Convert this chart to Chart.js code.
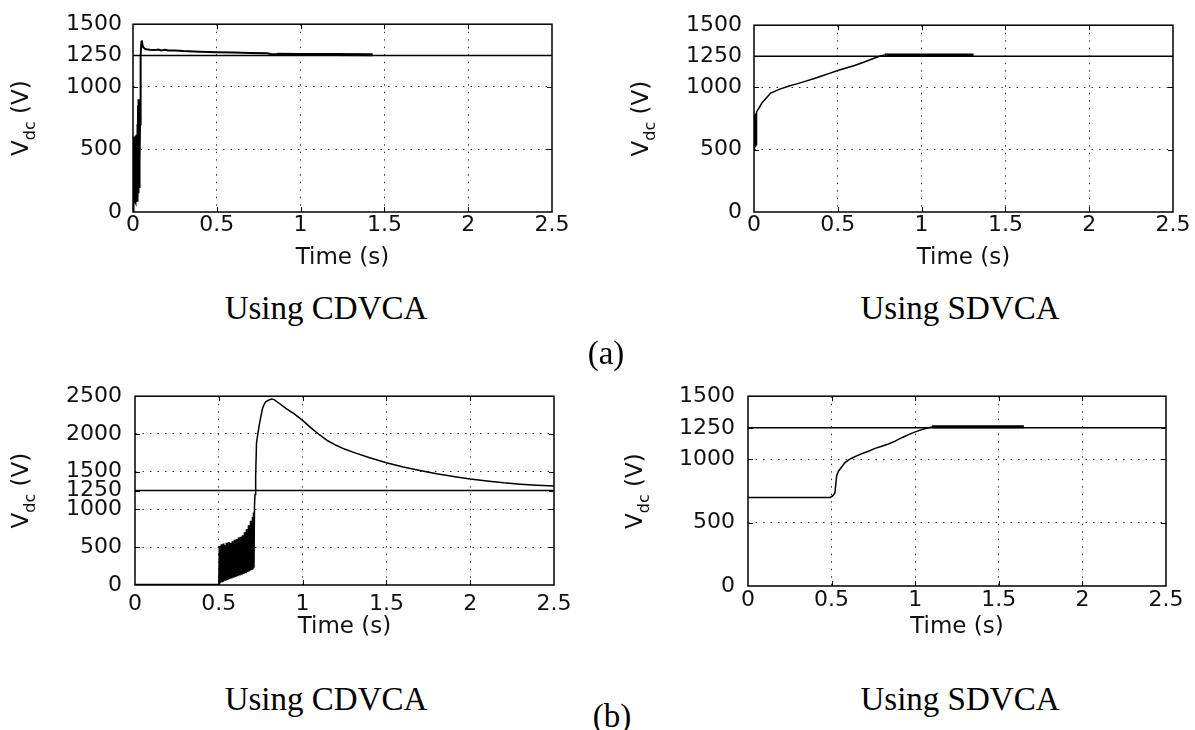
<!DOCTYPE html>
<html><head><meta charset="utf-8">
<script src="https://cdn.jsdelivr.net/npm/chart.js@4.4.1/dist/chart.umd.min.js"></script>
<style>
html,body{margin:0;padding:0;background:#fff;}
body{width:1195px;height:730px;position:relative;overflow:hidden;}
canvas{position:absolute;}
.cap{position:absolute;font-family:"Liberation Serif","Times New Roman",serif;font-size:33px;color:#000;white-space:nowrap;transform:translateX(-50%);line-height:1;}
</style></head><body>
<canvas id="c1" width="590" height="275" style="left:0;top:0"></canvas>
<canvas id="c2" width="575" height="275" style="left:620px;top:0"></canvas>
<canvas id="c3" width="590" height="290" style="left:0;top:370px"></canvas>
<canvas id="c4" width="575" height="290" style="left:620px;top:370px"></canvas>
<div class="cap" style="left:326px;top:292px">Using CDVCA</div>
<div class="cap" style="left:960px;top:292px">Using SDVCA</div>
<div class="cap" style="left:606px;top:337px">(a)</div>
<div class="cap" style="left:326px;top:683px">Using CDVCA</div>
<div class="cap" style="left:960px;top:683px">Using SDVCA</div>
<div class="cap" style="left:612px;top:700px">(b)</div>
<script>
// ---------- data ----------
const xTicks = [0, 0.5, 1, 1.5, 2, 2.5];
const xTickLabels = ['0', '0.5', '1', '1.5', '2', '2.5'];
const xGrid = [0.5, 1, 1.5, 2];
const yTicks1500 = [0, 500, 1000, 1250, 1500];
const yGrid1500 = [500, 1000];
const yTicks2500 = [0, 500, 1000, 1250, 1500, 2000, 2500];
const yGrid2500 = [500, 1000, 1500, 2000];

const refTime = [0, 2.5];
const refVdc = [1250, 1250];

// (a) CDVCA
const a1Time = [0,0.002,0.004,0.006,0.008,0.010,0.012,0.014,0.016,0.018,0.020,0.022,0.024,0.026,0.028,0.030,0.032,0.034,0.036,0.038,0.040,0.042,0.044,0.047,0.050,0.053,0.056,0.060,0.070,0.080,0.100,0.130,0.150,0.170,0.190,0.210,0.250,0.300,0.400,0.500,0.600,0.700,0.800,0.820,0.860];
const a1Vdc  = [0,560,80,600,70,590,90,610,80,600,100,620,90,700,110,850,150,900,200,880,400,700,1000,1250,1355,1370,1340,1318,1305,1300,1296,1293,1298,1291,1296,1290,1290,1285,1280,1276,1273,1270,1268,1262,1260];
const a1TailTime = [0.86, 1.0, 1.2, 1.43];
const a1TailVdc  = [1260, 1258, 1257, 1256];

// (a) SDVCA
const a2Time = [0,0.002,0.004,0.006,0.008,0.010,0.012,0.015,0.02,0.03,0.04,0.05,0.06,0.08,0.1,0.15,0.2,0.25,0.3,0.35,0.4,0.45,0.5,0.55,0.6,0.65,0.7,0.75,0.78];
const a2Vdc  = [500,780,510,780,520,790,540,800,815,835,860,880,895,925,955,985,1008,1027,1047,1068,1090,1113,1136,1156,1176,1200,1226,1250,1260];
const a2TailTime = [0.78, 1.0, 1.31];
const a2TailVdc  = [1260, 1260, 1260];

// (b) CDVCA
const b1Time = [0,0.500,0.503,0.506,0.509,0.512,0.515,0.518,0.521,0.524,0.527,0.530,0.533,0.536,0.539,0.542,0.545,0.548,0.551,0.554,0.557,0.560,0.563,0.566,0.569,0.572,0.575,0.578,0.581,0.584,0.587,0.590,0.593,0.596,0.599,0.602,0.605,0.608,0.611,0.614,0.617,0.620,0.623,0.626,0.629,0.632,0.635,0.638,0.641,0.644,0.647,0.650,0.653,0.656,0.659,0.662,0.665,0.668,0.671,0.674,0.677,0.680,0.683,0.686,0.689,0.692,0.695,0.698,0.701,0.704,0.707,0.710,0.713,0.716,0.720,0.725,0.730,0.740,0.750,0.760,0.770,0.780,0.800,0.815,0.830,0.864,0.900,0.950,1.000,1.050,1.100,1.150,1.200,1.250,1.300,1.400,1.500,1.600,1.700,1.800,1.900,2.000,2.100,2.200,2.300,2.400,2.500];
const b1Vdc  = [5,5,520,20,470,30,540,40,500,35,550,50,480,60,530,55,560,70,510,65,570,80,530,75,560,90,540,85,580,100,550,95,600,110,570,105,610,120,590,115,630,130,600,125,640,140,620,135,660,150,640,145,700,160,680,155,740,170,720,175,790,180,770,190,850,195,830,200,900,210,960,230,1050,1200,1450,1880,1960,2100,2220,2330,2390,2425,2452,2462,2455,2400,2340,2265,2180,2080,1990,1910,1850,1800,1760,1685,1620,1563,1515,1472,1437,1405,1378,1353,1335,1321,1310];

// (b) SDVCA
const b2Time = [0,0.49,0.5,0.51,0.52,0.525,0.53,0.54,0.56,0.58,0.6,0.62,0.65,0.68,0.72,0.76,0.8,0.84,0.88,0.92,0.96,1.0,1.04,1.08,1.1];
const b2Vdc  = [700,700,705,718,735,800,870,905,940,975,995,1010,1028,1045,1065,1088,1105,1122,1145,1172,1196,1218,1236,1250,1256];
const b2TailTime = [1.1, 1.3, 1.65];
const b2TailVdc  = [1258, 1258, 1258];

// ---------- drawing ----------
const FONT = '"DejaVu Sans", sans-serif';
const TXT = '#111';
function pts(ts, vs) { return ts.map((t, i) => ({x: t, y: vs[i]})); }
function ds(ts, vs, w) {
  return {data: pts(ts, vs), borderColor: '#000', borderWidth: w, pointRadius: 0, tension: 0, fill: false};
}

const panelDeco = {
  id: 'panelDeco',
  afterDraw(chart, args, opts) {
    const {ctx, chartArea: a, scales: {x, y}} = chart;
    ctx.save();
    ctx.strokeStyle = '#000';
    ctx.lineWidth = 1.5;
    ctx.strokeRect(a.left, a.top, a.right - a.left, a.bottom - a.top);
    ctx.lineWidth = 1;
    const seg = (x1, y1, x2, y2) => { ctx.beginPath(); ctx.moveTo(x1, y1); ctx.lineTo(x2, y2); ctx.stroke(); };
    x.ticks.forEach(t => {
      if (t.value <= x.min || t.value >= x.max) return;
      const px = Math.round(x.getPixelForValue(t.value)) + 0.5;
      seg(px, a.bottom, px, a.bottom - 5);
      seg(px, a.top, px, a.top + 5);
    });
    y.ticks.forEach(t => {
      if (t.value <= y.min || t.value >= y.max) return;
      const py = Math.round(y.getPixelForValue(t.value)) + 0.5;
      seg(a.left, py, a.left + 5, py);
      seg(a.right, py, a.right - 5, py);
    });
    // rotated y title with subscript
    ctx.fillStyle = TXT;
    ctx.textBaseline = 'alphabetic';
    ctx.textAlign = 'left';
    const f1 = '23px ' + FONT, f2 = '16px ' + FONT;
    ctx.font = f1; const wV = ctx.measureText('V').width; const wU = ctx.measureText(' (V)').width;
    ctx.font = f2; const wS = ctx.measureText('dc').width;
    const total = wV + wS + wU;
    ctx.translate(opts.titleX, (a.top + a.bottom) / 2);
    ctx.rotate(-Math.PI / 2);
    let x0 = -total / 2;
    ctx.font = f1; ctx.fillText('V', x0, 0); x0 += wV;
    ctx.font = f2; ctx.fillText('dc', x0, 7); x0 += wS;
    ctx.font = f1; ctx.fillText(' (V)', x0, 0);
    ctx.restore();
  }
};

function makePanel(id, o) {
  return new Chart(document.getElementById(id), {
    type: 'line',
    data: {datasets: o.datasets},
    plugins: [panelDeco],
    options: {
      responsive: false, animation: false, devicePixelRatio: 1,
      layout: {padding: {left: 0, top: o.padTop, right: o.padRight, bottom: 0}},
      plugins: {legend: {display: false}, tooltip: {enabled: false}, panelDeco: {titleX: o.titleX}},
      scales: {
        x: {
          type: 'linear', min: 0, max: 2.5,
          afterBuildTicks: ax => { ax.ticks = xTicks.map(v => ({value: v})); },
          afterFit: ax => { ax.height = o.xH; },
          grid: {color: c => (c.tick && xGrid.includes(c.tick.value)) ? '#333' : 'rgba(0,0,0,0)', lineWidth: 1, drawTicks: false, tickLength: 0},
          border: {display: false, dash: [1.5, 6]},
          ticks: {padding: o.xPad, font: {family: FONT, size: 22}, color: TXT, maxRotation: 0, autoSkip: false,
                  callback: (v, i) => xTickLabels[i]},
          title: {display: true, text: 'Time (s)', font: {family: FONT, size: 23}, color: TXT, padding: {top: 0, bottom: o.titlePadB}}
        },
        y: {
          type: 'linear', min: 0, max: o.yMax,
          afterBuildTicks: ax => { ax.ticks = o.yTicks.map(v => ({value: v})); },
          afterFit: ax => { ax.width = o.yW; },
          grid: {color: c => (c.tick && o.yGrid.includes(c.tick.value)) ? '#333' : 'rgba(0,0,0,0)', lineWidth: 1, drawTicks: false, tickLength: 0},
          border: {display: false, dash: [1.5, 6]},
          ticks: {padding: o.yPad, font: {family: FONT, size: 22}, color: TXT, autoSkip: false,
                  callback: v => String(v)}
        }
      }
    }
  });
}

makePanel('c1', {
  datasets: [ds(refTime, refVdc, 1.5), ds(a1Time, a1Vdc, 2), ds(a1TailTime, a1TailVdc, 3)],
  yMax: 1500, yTicks: yTicks1500, yGrid: yGrid1500,
  padTop: 18, padRight: 38, yW: 133, xH: 63, xPad: 0, titlePadB: 3, yPad: 11, titleX: 28
});
makePanel('c2', {
  datasets: [ds(refTime, refVdc, 1.5), ds(a2Time, a2Vdc, 1.5), ds(a2TailTime, a2TailVdc, 3)],
  yMax: 1500, yTicks: yTicks1500, yGrid: yGrid1500,
  padTop: 18, padRight: 22, yW: 134, xH: 63, xPad: 0, titlePadB: 3, yPad: 12, titleX: 28
});
makePanel('c3', {
  datasets: [ds(refTime, refVdc, 1.5), ds(b1Time, b1Vdc, 1.5)],
  yMax: 2500, yTicks: yTicks2500, yGrid: yGrid2500,
  padTop: 21, padRight: 36, yW: 135, xH: 75, xPad: 6, titlePadB: 19, yPad: 13, titleX: 28
});
makePanel('c4', {
  datasets: [ds(refTime, refVdc, 1.5), ds(b2Time, b2Vdc, 1.5), ds(b2TailTime, b2TailVdc, 3)],
  yMax: 1500, yTicks: yTicks1500, yGrid: yGrid1500,
  padTop: 23, padRight: 29, yW: 128, xH: 74, xPad: 1, titlePadB: 19, yPad: 13, titleX: 22
});
</script>
</body></html>
